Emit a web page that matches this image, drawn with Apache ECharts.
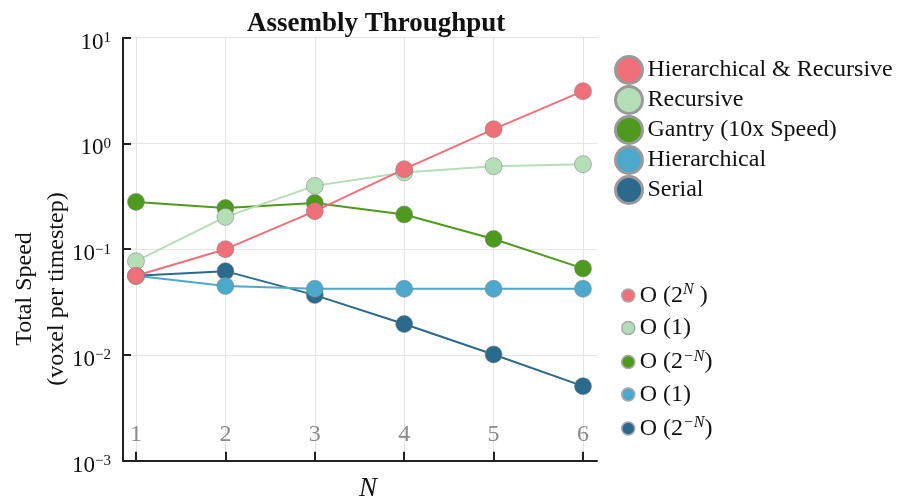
<!DOCTYPE html>
<html>
<head>
<meta charset="utf-8">
<script src="https://cdn.jsdelivr.net/npm/echarts@6/dist/echarts.min.js"></script>
<style>html,body{margin:0;padding:0;background:#fff}#c{width:906px;height:500px}</style>
</head>
<body>
<div id="c"></div>
<script>
const N = [1, 2, 3, 4, 5, 6];
const hierRecursive = [0.056, 0.100, 0.229, 0.571, 1.365, 3.12];
const recursive = [0.077, 0.202, 0.397, 0.532, 0.610, 0.637];
const gantry = [0.280, 0.245, 0.274, 0.213, 0.125, 0.0658];
const hierarchical = [0.056, 0.0448, 0.0422, 0.0422, 0.0422, 0.0422];
const serial = [0.056, 0.062, 0.0368, 0.0196, 0.0101, 0.00507];
const legendOrder = ['Hierarchical & Recursive', 'Recursive', 'Gantry (10x Speed)', 'Hierarchical', 'Serial'];
const complexity = {
  'Hierarchical & Recursive': '{t|O (2}{s|N}{t| )}',
  'Recursive': '{t|O (1)}',
  'Gantry (10x Speed)': '{t|O (2}{s|−N}{t|)}',
  'Hierarchical': '{t|O (1)}',
  'Serial': '{t|O (2}{s|−N}{t|)}'
};
const colors = {
  'Hierarchical & Recursive': '#F0707A',
  'Recursive': '#B4DFB6',
  'Gantry (10x Speed)': '#4E9A1E',
  'Hierarchical': '#4DA9CC',
  'Serial': '#2B6A8C'
};
const yTicks = [0.001, 0.01, 0.1, 1, 10];

const FONT = '"Liberation Serif", "Times New Roman", serif';
const pairs = vals => N.map((n, i) => [n, vals[i]]);
const drawOrder = [
  ['Serial', serial],
  ['Hierarchical', hierarchical],
  ['Gantry (10x Speed)', gantry],
  ['Recursive', recursive],
  ['Hierarchical & Recursive', hierRecursive]
];

const chart = echarts.init(document.getElementById('c'), null, {renderer: 'canvas'});
const gridTop = 37.7, gridBottom = 39.3;
chart.setOption({
  animation: false,
  backgroundColor: '#fff',
  title: {
    text: 'Assembly Throughput',
    left: 242, top: 6,
    textStyle: {fontFamily: FONT, fontWeight: 'bold', fontSize: 27, color: '#111'}
  },
  grid: [
    {left: 136, right: 323, top: gridTop, bottom: gridBottom, containLabel: false, outerBoundsMode: 'none'},
    {left: 123, right: 309, top: gridTop, bottom: gridBottom, containLabel: false, outerBoundsMode: 'none'}
  ],
  xAxis: [
    {
      type: 'value', gridIndex: 0, min: N[0], max: N[N.length - 1], interval: 1,
      axisLine: {show: false},
      axisTick: {show: true, inside: true, length: 9, lineStyle: {color: '#222', width: 2}},
      axisLabel: {inside: true, margin: 14, color: '#8a8a8a', fontFamily: FONT, fontSize: 24},
      splitLine: {show: true, lineStyle: {color: '#e6e6e6', width: 1}}
    },
    {
      type: 'value', gridIndex: 1, min: 0, max: 1,
      axisLine: {show: true, lineStyle: {color: '#222', width: 2}},
      axisTick: {show: false}, axisLabel: {show: false}, splitLine: {show: false},
      name: 'N', nameLocation: 'middle', nameGap: 15,
      nameTextStyle: {fontFamily: FONT, fontStyle: 'italic', fontSize: 27, color: '#111', padding: [0, 0, 0, 16]}
    }
  ],
  yAxis: [
    {type: 'log', logBase: 10, gridIndex: 0, min: yTicks[0], max: yTicks[yTicks.length - 1], show: false},
    {
      type: 'log', logBase: 10, gridIndex: 1, min: yTicks[0], max: yTicks[yTicks.length - 1],
      axisLine: {show: true, lineStyle: {color: '#222', width: 2}},
      axisTick: {show: true, inside: true, length: 8, lineStyle: {color: '#222', width: 2}},
      minorTick: {show: false},
      splitLine: {show: true, lineStyle: {color: '#e6e6e6', width: 1}},
      axisLabel: {
        margin: 12,
        formatter: v => {
          const e = Math.round(Math.log10(v));
          return '{b|10}{s|' + (e < 0 ? '−' + (-e) : e) + '}';
        },
        rich: {
          b: {fontFamily: FONT, fontSize: 23, color: '#111', lineHeight: 26, padding: [10, 0, 0, 0]},
          s: {fontFamily: FONT, fontSize: 15, color: '#111', lineHeight: 15, verticalAlign: 'top', padding: [6, 0, 0, 0]}
        }
      }
    }
  ],
  legend: [
    {
      orient: 'vertical', left: 614, top: 55, padding: 0,
      data: legendOrder, icon: 'circle',
      itemWidth: 27, itemHeight: 27, itemGap: 0,
      itemStyle: {borderColor: '#9a9a9a', borderWidth: 3},
      textStyle: {fontFamily: FONT, fontSize: 24, color: '#111', lineHeight: 27},
      selectedMode: false
    },
    {
      orient: 'vertical', left: 621, top: 282, padding: 0,
      data: legendOrder, icon: 'circle',
      itemWidth: 13, itemHeight: 13, itemGap: 8.5,
      itemStyle: {borderColor: '#aaaaaa', borderWidth: 1.5},
      formatter: name => complexity[name],
      textStyle: {
        fontFamily: FONT, fontSize: 24, color: '#111',
        rich: {
          t: {fontFamily: FONT, fontSize: 24, color: '#111', lineHeight: 27},
          s: {fontFamily: FONT, fontSize: 16, fontStyle: 'italic', color: '#111', lineHeight: 14, verticalAlign: 'top'}
        }
      },
      selectedMode: false
    }
  ],
  graphic: [
    {
      type: 'text', x: 41, y: 289, rotation: Math.PI / 2,
      style: {
        text: 'Total Speed\n(voxel per timestep)',
        align: 'center', verticalAlign: 'middle',
        fontFamily: FONT, fontSize: 24, lineHeight: 32, fill: '#111'
      }
    }
  ],
  series: drawOrder.map(([name, vals]) => ({
    name: name, type: 'line', xAxisIndex: 0, yAxisIndex: 0,
    data: pairs(vals),
    symbol: 'circle', symbolSize: 17,
    lineStyle: {color: colors[name], width: 2},
    itemStyle: {color: colors[name], borderColor: 'rgba(130,130,130,0.55)', borderWidth: 1},
    emphasis: {disabled: true}
  }))
});
</script>
</body>
</html>
